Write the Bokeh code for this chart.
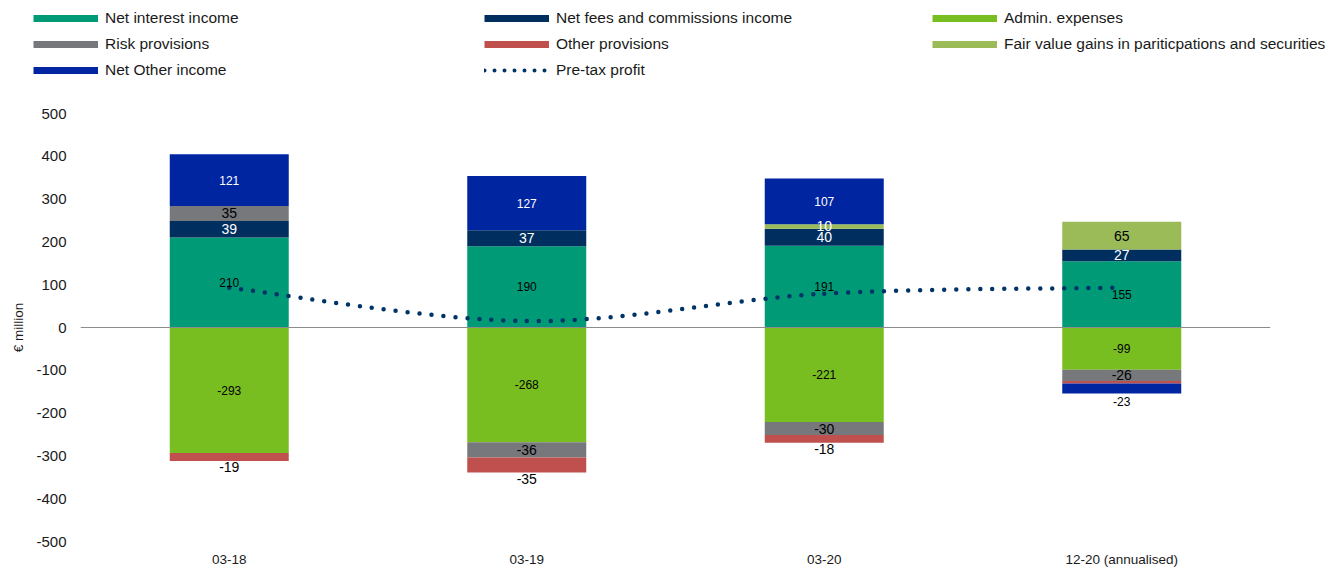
from bokeh.plotting import figure
from bokeh.layouts import column
from bokeh.models import (FactorRange, Range1d, Span, Legend, LegendItem,
                          FixedTicker, ColumnDataSource)
from bokeh.core.properties import value
from bokeh.embed import file_html
from bokeh.resources import INLINE

# ---------------- data ----------------
categories = ["03-18", "03-19", "03-20", "12-20 (annualised)"]
net_interest_income = [210, 190, 191, 155]
net_fees_commissions = [39, 37, 40, 27]
admin_expenses = [-293, -268, -221, -99]
risk_provisions = [35, -36, -30, -26]
other_provisions = [-19, -35, -18, -6]
fair_value_gains = [0, 0, 10, 65]
net_other_income = [121, 127, 107, -23]
pre_tax_profit = [93, 15, 79, 93]
y_ticks = [-500, -400, -300, -200, -100, 0, 100, 200, 300, 400, 500]

FONT = "Liberation Sans"

series = [
    ("Net interest income", net_interest_income, "#009A77"),
    ("Net fees and commissions income", net_fees_commissions, "#002F5F"),
    ("Admin. expenses", admin_expenses, "#79BE20"),
    ("Risk provisions", risk_provisions, "#76787B"),
    ("Other provisions", other_provisions, "#C0504D"),
    ("Fair value gains in pariticpations and securities", fair_value_gains, "#9BBB59"),
    ("Net Other income", net_other_income, "#0025A0"),
]
label_style = {
    "Net interest income": ("12px", "black", "black", 0),
    "Net fees and commissions income": ("14px", "white", "white", 0),
    "Admin. expenses": ("12px", "black", "black", 0),
    "Risk provisions": ("14px", "black", "black", 0),
    "Other provisions": ("14px", "black", "black", 6),
    "Fair value gains in pariticpations and securities": ("14px", "black", "black", 0),
    "Net Other income": ("12px", "white", "black", 8),
}
fv_label_colors = ["black", "black", "white", "black"]
line_color = "#003366"

# ---------------- sizes ----------------
W, H = 1325, 569
legend_h = 105
main_h = H - legend_h
top_border, bottom_border, left_border, right_border = 8, 28, 80, 55

# ---------------- main chart ----------------
p = figure(width=W, height=main_h, x_range=FactorRange(*categories),
           y_range=Range1d(-500, 500), output_backend="svg",
           toolbar_location=None, min_border_top=top_border,
           min_border_bottom=bottom_border, min_border_left=left_border,
           min_border_right=right_border)
p.outline_line_color = None
p.xgrid.visible = False
p.ygrid.visible = False
p.background_fill_color = "white"
p.border_fill_color = "white"

p.yaxis.ticker = FixedTicker(ticks=y_ticks)
p.yaxis.major_label_overrides = {t: str(t) for t in y_ticks}
for ax in (p.xaxis[0], p.yaxis[0]):
    ax.axis_line_color = None
    ax.major_tick_line_color = None
    ax.minor_tick_line_color = None
    ax.major_tick_out = 0
    ax.major_tick_in = 0
    ax.major_label_text_font = FONT
    ax.major_label_text_color = "#1a1a1a"
p.yaxis.major_label_text_font_size = "15px"
p.xaxis.major_label_text_font_size = "13.5px"
p.yaxis.major_label_standoff = 14
p.xaxis.major_label_standoff = 10
p.yaxis.axis_label = "€ million"
p.yaxis.axis_label_text_font = FONT
p.yaxis.axis_label_text_font_size = "13.5px"
p.yaxis.axis_label_text_font_style = "normal"
p.yaxis.axis_label_text_color = "#1a1a1a"
p.yaxis.axis_label_standoff = 7

n = len(categories)
pos_base = [0.0] * n
neg_base = [0.0] * n
label_jobs = []
for name, vals, color in series:
    bottoms, tops = [], []
    for i, v in enumerate(vals):
        if v >= 0:
            b = pos_base[i]
            t = b + v
            pos_base[i] = t
        else:
            t = neg_base[i]
            b = t + v
            neg_base[i] = b
        bottoms.append(b)
        tops.append(t)
    src = ColumnDataSource(dict(x=categories, bottom=bottoms, top=tops))
    p.vbar(x="x", bottom="bottom", top="top", width=0.4, source=src,
           fill_color=color, line_color=None)
    label_jobs.append((name, vals, bottoms, tops))

p.add_layout(Span(location=0, dimension="width", line_color="#8c8c8c", line_width=1))

# pre-tax profit: smoothed dotted line through the four values
xs = [i + 0.5 for i in range(n)]
pts = list(zip(xs, pre_tax_profit))
bz = dict(x0=[], y0=[], x1=[], y1=[], cx0=[], cy0=[], cx1=[], cy1=[])
for i in range(n - 1):
    p0 = pts[max(i - 1, 0)]
    p1 = pts[i]
    p2 = pts[i + 1]
    p3 = pts[min(i + 2, n - 1)]
    bz["x0"].append(p1[0]); bz["y0"].append(p1[1])
    bz["x1"].append(p2[0]); bz["y1"].append(p2[1])
    bz["cx0"].append(p1[0] + (p2[0] - p0[0]) / 6.0)
    bz["cy0"].append(p1[1] + (p2[1] - p0[1]) / 6.0)
    bz["cx1"].append(p2[0] - (p3[0] - p1[0]) / 6.0)
    bz["cy1"].append(p2[1] - (p3[1] - p1[1]) / 6.0)
p.bezier(x0="x0", y0="y0", x1="x1", y1="y1", cx0="cx0", cy0="cy0",
         cx1="cx1", cy1="cy1", source=ColumnDataSource(bz),
         line_color=line_color, line_width=4.5, line_dash="0 12", line_cap="round")

for name, vals, bottoms, tops in label_jobs:
    size, cpos, cneg, neg_off = label_style[name]
    lx, ly, lt, lc, lo = [], [], [], [], []
    for i, v in enumerate(vals):
        if abs(v) < 8:
            continue
        lx.append(categories[i])
        lt.append(str(v))
        if v < 0 and neg_off:
            ly.append(bottoms[i])
            lo.append(neg_off)
        else:
            ly.append((bottoms[i] + tops[i]) / 2.0)
            lo.append(0)
        if name.startswith("Fair value"):
            lc.append(fv_label_colors[i])
        else:
            lc.append(cpos if v >= 0 else cneg)
    if not lx:
        continue
    src = ColumnDataSource(dict(x=lx, y=ly, text=lt, color=lc, off=lo))
    p.text(x="x", y="y", text="text", source=src, text_color="color",
           text_font=value(FONT), text_font_size=size, text_align="center",
           text_baseline="middle", y_offset="off")

# ---------------- legend strip ----------------
lf = figure(width=W, height=legend_h, x_range=Range1d(0, 1), y_range=Range1d(0, 1),
            output_backend="svg", toolbar_location=None,
            x_axis_location=None, y_axis_location=None,
            min_border=0, min_border_left=0, min_border_right=0,
            min_border_top=0, min_border_bottom=0)
lf.outline_line_color = None
lf.grid.visible = False
lf.background_fill_color = "white"
lf.border_fill_color = "white"
for fig in (lf, p):
    try:
        fig.frame_align = False
    except Exception:
        pass

# single-point line proxies: nothing visible in the strip, used only as legend swatches
proxies = {}
for name, vals, color in series:
    proxies[name] = lf.line(x=[0], y=[0], line_color=color, line_width=7, line_cap="butt")
proxies["Pre-tax profit"] = lf.line(x=[0], y=[0], line_color=line_color, line_width=4,
                                    line_dash="0 10", line_cap="round")

columns = [
    (["Net interest income", "Risk provisions", "Net Other income"], 33),
    (["Net fees and commissions income", "Other provisions", "Pre-tax profit"], 484),
    (["Admin. expenses", "Fair value gains in pariticpations and securities"], 932),
]
item_h, item_gap, legend_top = 20, 6, 8
for names, page_x in columns:
    items = [LegendItem(label=nm, renderers=[proxies[nm]]) for nm in names]
    h = len(names) * item_h + (len(names) - 1) * item_gap
    lg = Legend(items=items, location=(page_x, legend_h - legend_top - h),
                orientation="vertical", glyph_width=65, glyph_height=item_h,
                label_height=item_h, spacing=item_gap, padding=0, margin=0,
                label_standoff=7, label_text_font=FONT,
                label_text_font_size="15.5px", label_text_color="#1a1a1a",
                border_line_color=None, background_fill_alpha=0)
    lf.add_layout(lg, "center")

layout = column(lf, p, spacing=0)
open("out.html", "w").write(file_html(layout, INLINE))
